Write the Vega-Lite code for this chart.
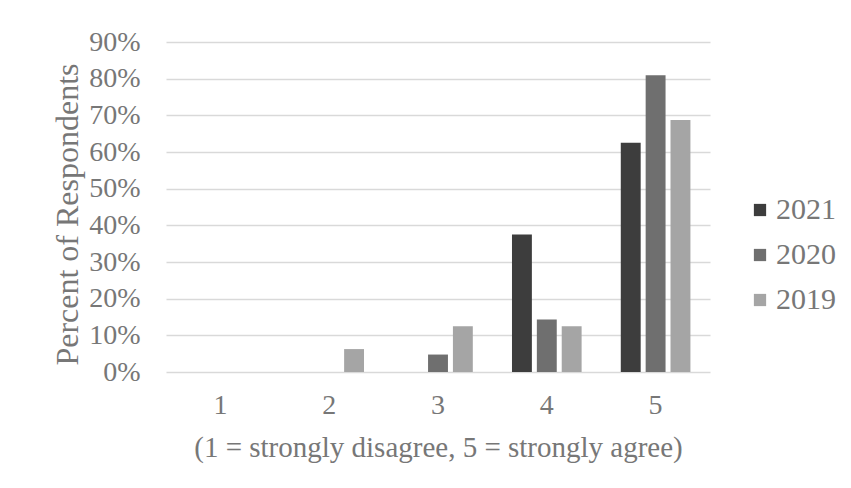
{
  "$schema": "https://vega.github.io/schema/vega-lite/v6.json",
  "autosize": "none",
  "width": 544,
  "height": 330,
  "padding": {"left": 166, "top": 42, "right": 141, "bottom": 116},
  "background": "white",
  "data": {"values": [
    {"rating": "1", "year": "2021", "pct": 0},
    {"rating": "1", "year": "2020", "pct": 0},
    {"rating": "1", "year": "2019", "pct": 0},
    {"rating": "2", "year": "2021", "pct": 0},
    {"rating": "2", "year": "2020", "pct": 0},
    {"rating": "2", "year": "2019", "pct": 0.0625},
    {"rating": "3", "year": "2021", "pct": 0},
    {"rating": "3", "year": "2020", "pct": 0.0476},
    {"rating": "3", "year": "2019", "pct": 0.125},
    {"rating": "4", "year": "2021", "pct": 0.375},
    {"rating": "4", "year": "2020", "pct": 0.1429},
    {"rating": "4", "year": "2019", "pct": 0.125},
    {"rating": "5", "year": "2021", "pct": 0.625},
    {"rating": "5", "year": "2020", "pct": 0.8095},
    {"rating": "5", "year": "2019", "pct": 0.6875}
  ]},
  "mark": {"type": "bar"},
  "encoding": {
    "x": {
      "field": "rating", "type": "nominal",
      "scale": {"paddingInner": 0.36, "paddingOuter": 0.18},
      "axis": {
        "title": "(1 = strongly disagree, 5 = strongly agree)",
        "labelAngle": 0, "domain": false, "ticks": false,
        "labelPadding": 19, "titlePadding": 14,
        "labelFontSize": 28, "titleFontSize": 29
      }
    },
    "xOffset": {"field": "year", "type": "nominal", "sort": ["2021", "2020", "2019"], "scale": {"paddingInner": 0.2}},
    "y": {
      "field": "pct", "type": "quantitative",
      "scale": {"domain": [0, 0.9]},
      "axis": {
        "title": "Percent of Respondents", "format": ".0%", "values": [0,0.1,0.2,0.3,0.4,0.5,0.6,0.7,0.8,0.9],
        "domain": false, "ticks": false, "labelPadding": 26, "titlePadding": 4,
        "titleY": 172,
        "gridColor": "#d9d9d9", "gridWidth": 1.5,
        "labelFontSize": 28, "titleFontSize": 32
      }
    },
    "color": {
      "field": "year", "type": "nominal",
      "sort": ["2021", "2020", "2019"],
      "scale": {"domain": ["2021", "2020", "2019"], "range": ["#3d3d3d", "#6f6f6f", "#a5a5a5"]},
      "legend": {
        "title": null, "orient": "none", "legendX": 579, "legendY": 153,
        "symbolType": "square", "symbolSize": 150, "rowPadding": 15,
        "labelFont": "Liberation Serif", "labelFontSize": 30, "labelOffset": 1, "labelColor": "#777777"
      }
    }
  },
  "config": {
    "font": "Liberation Serif",
    "view": {"stroke": null},
    "style": {"guide-label": {"font": "Liberation Serif"}, "guide-title": {"font": "Liberation Serif"}},
    "axis": {"labelFont": "Liberation Serif", "titleFont": "Liberation Serif", "labelColor": "#777777", "titleColor": "#777777", "titleFontWeight": "normal"},
    "legend": {"labelFont": "Liberation Serif", "labelColor": "#777777"}
  }
}
